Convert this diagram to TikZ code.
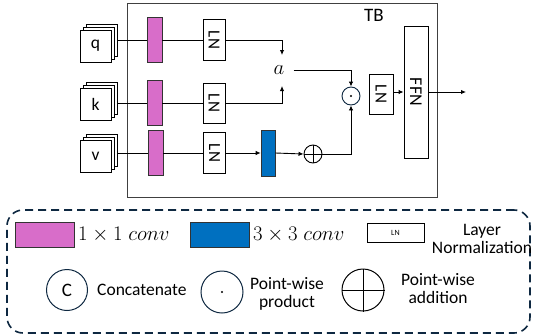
\documentclass[tikz,border=0pt]{standalone}
\usepackage{fontspec}
\setmainfont{Carlito}
\usetikzlibrary{arrows.meta}
\definecolor{pinkc}{HTML}{D86DC9}
\definecolor{bluec}{HTML}{0070C0}
\definecolor{navy}{HTML}{0E2841}
\tikzset{
  ln/.style={draw, line width=0.9pt, fill=white, inner sep=0pt},
  page/.style={draw, line width=0.7pt, fill=white, minimum width=31pt, minimum height=32pt, inner sep=0pt},
  pinkbox/.style={draw=black!80, line width=0.7pt, fill=pinkc, minimum width=15pt, minimum height=45pt, inner sep=0pt},
  bluebox/.style={draw=black!80, line width=0.7pt, fill=bluec, minimum width=14pt, minimum height=46pt, inner sep=0pt},
  big/.style={font=\fontsize{17.5}{18}\selectfont},
  lbl/.style={font=\fontsize{17.5}{18}\selectfont, align=center, inner sep=0pt},
  mth/.style={font=\fontsize{21}{21}\selectfont, inner sep=0pt},
  conn/.style={line width=0.9pt},
  arr/.style={line width=0.9pt, -{Latex[length=5pt,width=4.5pt]}},
  opcirc/.style={draw, circle, line width=0.9pt, minimum size=18pt, inner sep=0pt},
}
\begin{document}
\begin{tikzpicture}[x=1pt, y=-1pt]
\useasboundingbox (0,0) rectangle (533,335);
% TB block
\node[draw=black!75, line width=0.8pt, minimum width=310pt, minimum height=194pt, inner sep=0pt] (tb) at (282,100) {};
\node[font=\fontsize{19}{19}\selectfont, inner sep=0pt] (tblabel) at (374,15) {TB};
% stacks
\foreach \n/\y/\t in {q/46/q, k/104/k, v/156/v}{
  \node[page] (\n b) at (101.5,\y-6) {};
  \node[page] (\n m) at (98.5,\y-3) {};
  \node[page, big] (\n) at (95.5,\y) {\t};
}
% 1x1 conv
\node[pinkbox] (qc) at (154.5,40) {};
\node[pinkbox] (kc) at (154.5,103) {};
\node[pinkbox] (vc) at (155.5,153) {};
% LN
\node[ln, minimum width=22pt, minimum height=41pt] (qln) at (214,40) {\rotatebox{-90}{\fontsize{17}{17}\selectfont LN}};
\node[ln, minimum width=22pt, minimum height=40pt] (kln) at (214,103) {\rotatebox{-90}{\fontsize{17}{17}\selectfont LN}};
\node[ln, minimum width=22pt, minimum height=41pt] (vln) at (214.5,153) {\rotatebox{-90}{\fontsize{17}{17}\selectfont LN}};
% 3x3 conv
\node[bluebox] (dw) at (268,153) {};
% a
\node[mth] (a) at (279,70) {$a$};
\coordinate (atop) at (282,55);
\coordinate (abot) at (282,86);
% ops
\node[opcirc, draw=navy] (dot) at (351,96) {};
\fill[black] (dot.center) circle (1.1pt);
\node[opcirc] (plus) at (313,154) {};
\draw[line width=0.9pt] (plus.north) -- (plus.south) (plus.west) -- (plus.east);
% LN2, FFN
\node[ln, minimum width=24pt, minimum height=40pt] (ln2) at (381,94) {\rotatebox{-90}{\fontsize{17}{17}\selectfont LN}};
\node[ln, minimum width=24pt, minimum height=132pt] (ffn) at (416,92) {\rotatebox{-90}{\fontsize{18}{18}\selectfont FFN}};
\coordinate (out) at (466,92);
% connectors
\foreach \n in {q,k,v}{
  \draw[conn] (\n b.east |- \n c.west) -- (\n c.west);
  \draw[conn] (\n c.east) -- (\n ln.west);
}
\draw[arr] (qln.east) -| (atop);
\draw[arr] (kln.east) -| (abot);
\draw[arr] (vln.east) -- (dw.west);
\draw[arr] (dw.east) -- (plus.west);
\draw[arr] (plus.east) -| (dot.south);
\draw[arr] (a.east) ++(9,0) -| (dot.north);
\draw[arr] (ln2.east |- ffn.west) -- (ffn.west);
\draw[arr] (ffn.east) -- (out);
% legend
\node[draw=navy, line width=1.6pt, dash pattern=on 8pt off 5pt, rounded corners=16pt, minimum width=523pt, minimum height=123pt, inner sep=0pt] (leg) at (268.5,271.5) {};
\node[draw=black!80, line width=0.8pt, fill=pinkc, minimum width=59pt, minimum height=25pt, inner sep=0pt] (lp) at (44.5,234.5) {};
\node[mth, anchor=west] (lpt) at (78,235) {$1\times 1\;conv$};
\node[draw=black!80, line width=0.8pt, fill=bluec, minimum width=59pt, minimum height=25pt, inner sep=0pt] (lb) at (219.5,234.5) {};
\node[mth, anchor=west] (lbt) at (253,235) {$3\times 3\;conv$};
\node[draw, line width=0.8pt, minimum width=57pt, minimum height=19pt, inner sep=0pt, font=\fontsize{8}{8}\selectfont] (lln) at (395.5,232.5) {LN};
\node[lbl] (llnt) at (482,239) {Layer\\Normalization};
\node[draw=navy, circle, line width=1pt, minimum size=41pt, inner sep=0pt, font=\fontsize{19}{19}\selectfont] (lc) at (67,290) {C};
\node[lbl, anchor=west] (lct) at (97,290) {Concatenate};
\node[draw=navy, circle, line width=1pt, minimum size=42pt, inner sep=0pt] (ld) at (222,292) {};
\fill[black] (ld.center) circle (1.2pt);
\node[lbl] (ldt) at (287,294) {Point-wise\\product};
\node[draw=black, circle, line width=1pt, minimum size=42pt, inner sep=0pt] (lo) at (363,290) {};
\draw[line width=1pt] (lo.north) -- (lo.south) (lo.west) -- (lo.east);
\node[lbl] (lot) at (438,289) {Point-wise\\addition};
\end{tikzpicture}
\end{document}
